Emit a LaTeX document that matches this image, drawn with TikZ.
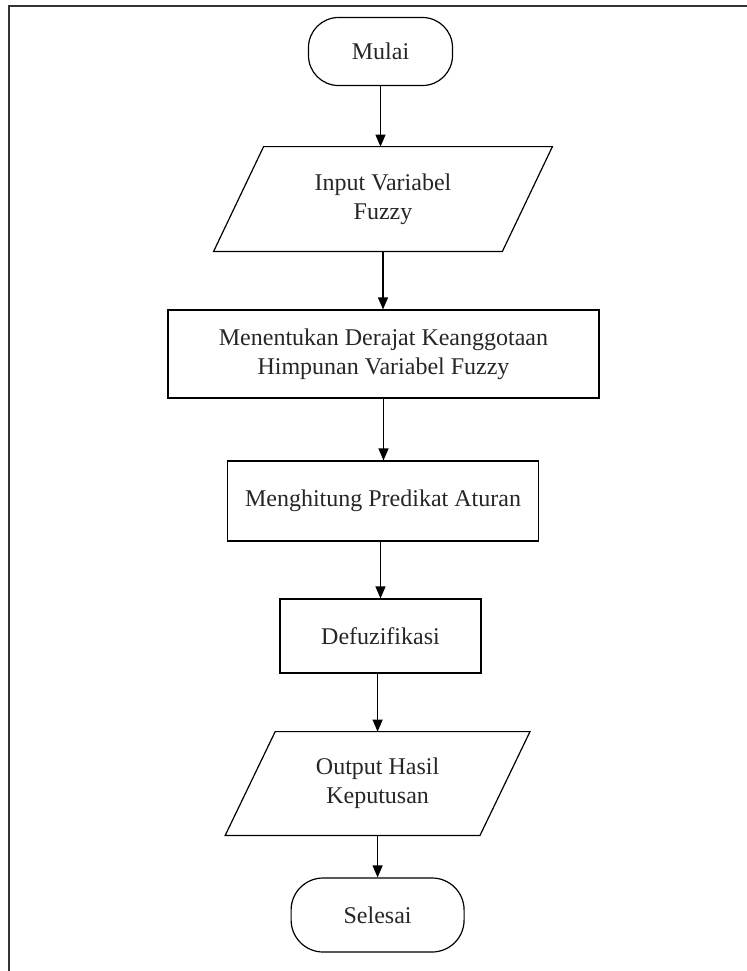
\documentclass[tikz,border=0pt]{standalone}
\usepackage{fontspec}
\setmainfont{Liberation Serif}
\usetikzlibrary{calc,arrows.meta}
\begin{document}
\begin{tikzpicture}[x=0.5pt,y=-0.5pt,
  every node/.style={font=\fontsize{12}{14.5}\selectfont, text=black!85, inner sep=0pt, align=center},
  term/.style={draw, rounded corners=15pt, line width=0.6pt},
  procbox/.style={draw, line width=0.6pt},
  iobox/.style={draw=none},
  arr/.style={line width=0.6pt, -{Triangle[length=6pt,width=5pt]}},
  frame/.style={line width=1pt, draw=black!80}
]
\useasboundingbox (0,0) rectangle (747,971);
\draw[frame] (9,971) -- (9,5.5) -- (747,5.5);

\node[term, minimum width=72pt, minimum height=34pt] (mulai) at (380.5,51.5) {Mulai};
\node[iobox, minimum width=144pt, minimum height=52pt] (inp) at (383,199) {Input Variabel\\Fuzzy};
\node[procbox, minimum width=215.5pt, minimum height=44pt] (det) at (383.5,354) {Menentukan Derajat Keanggotaan\\Himpunan Variabel Fuzzy};
\node[procbox, minimum width=155.5pt, minimum height=40pt] (pred) at (383,501) {Menghitung Predikat Aturan};
\node[procbox, minimum width=100.5pt, minimum height=37pt] (defz) at (380.5,636) {Defuzifikasi};
\node[iobox, minimum width=127pt, minimum height=51.5pt] (outp) at (377.6,783.5) {Output Hasil\\Keputusan};
\node[term, rounded corners=16pt, minimum width=86.5pt, minimum height=37pt] (sel) at (377.6,915) {Selesai};

\draw[line width=0.6pt] ($(inp.north west)+(25,0)$) -- ($(inp.north east)+(25,0)$) -- ($(inp.south east)+(-25,0)$) -- ($(inp.south west)+(-25,0)$) -- cycle;
\draw[line width=0.6pt] ($(outp.north west)+(25,0)$) -- ($(outp.north east)+(25,0)$) -- ($(outp.south east)+(-25,0)$) -- ($(outp.south west)+(-25,0)$) -- cycle;

\draw[arr] (mulai.south) -- (mulai.south |- inp.north);
\draw[arr] (inp.south) -- (inp.south |- det.north);
\draw[arr] (det.south) -- (det.south |- pred.north);
\draw[arr] (defz.north |- pred.south) -- (defz.north);
\draw[arr] (outp.north |- defz.south) -- (outp.north);
\draw[arr] (outp.south) -- (sel.north);
\end{tikzpicture}
\end{document}
